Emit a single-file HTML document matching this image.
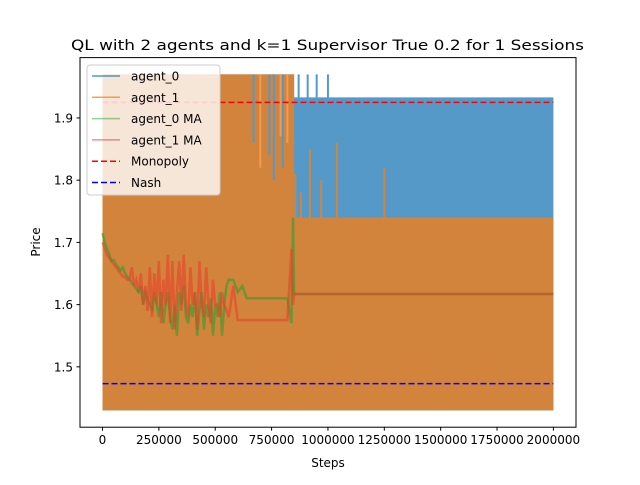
<!DOCTYPE html>
<html><head><meta charset="utf-8"><style>
body{margin:0;background:#fff}
svg{font-family:"DejaVu Sans","Liberation Sans",sans-serif}
</style></head><body>
<svg id="chart" width="640" height="480" viewBox="0 0 640 480" xmlns="http://www.w3.org/2000/svg">
<rect width="640" height="480" fill="#fff"/>
<text x="71" y="50" font-size="14.5" textLength="513" lengthAdjust="spacingAndGlyphs">QL with 2 agents and k=1 Supervisor True 0.2  for 1 Sessions</text>
<g id="plot"></g>
<rect x="80" y="57.6" width="496" height="369.6" fill="none" stroke="#000" stroke-width="1"/>
<g id="axes"></g>
<text x="328" y="467" text-anchor="middle" font-size="12">Steps</text>
<text transform="translate(40,242) rotate(-90)" text-anchor="middle" font-size="12">Price</text>
<g id="legend">
<rect x="87" y="65" width="133" height="130" rx="3" fill="#fff" fill-opacity="0.8" stroke="#ccc"/>
</g>
</svg>
<script>
// data
const xTicks=[0,250000,500000,750000,1000000,1250000,1500000,1750000,2000000];
const yTicks=[1.5,1.6,1.7,1.8,1.9];
const monopoly=1.925, nash=1.473;
const agent0Band={xs:[0,850000,850000,2000000],top:[1.97,1.97,1.933,1.933],bottom:1.43};
const agent1Band={xs:[0,850000,850000,2000000],top:[1.97,1.97,1.74,1.74],bottom:1.43};
const agent0DownSpikes=[[670000,1.86],[740000,1.84],[760000,1.80],[800000,1.82]];
const agent0UpSpikes=[[870000,1.97],[910000,1.97],[950000,1.97],[1000000,1.97]];
const agent1Spikes=[[855000,1.81],[880000,1.78],[920000,1.85],[970000,1.80],[1040000,1.86],[1250000,1.82]];
const agent1DownSpikes=[[700000,1.82],[790000,1.87],[820000,1.86]];
const maSteps=[0,10000,20000,30000,40000,50000,60000,70000,80000,90000,100000,110000,120000,130000,140000,150000,160000,170000,180000,190000,200000,210000,220000,230000,240000,250000,260000,270000,280000,290000,300000,310000,320000,330000,340000,350000,360000,370000,380000,390000,400000,410000,420000,430000,440000,450000,460000,470000,480000,490000,500000,510000,520000,530000,540000,550000,560000,580000,600000,620000,640000,700000,760000,820000,838000,845000,850000,870000,1200000,2000000];
const agent0MA=[1.715,1.70,1.69,1.68,1.67,1.672,1.665,1.66,1.655,1.66,1.65,1.645,1.64,1.635,1.63,1.625,1.62,1.63,1.60,1.62,1.61,1.60,1.59,1.62,1.60,1.58,1.62,1.57,1.60,1.62,1.58,1.56,1.60,1.55,1.62,1.60,1.63,1.58,1.57,1.60,1.58,1.62,1.55,1.59,1.62,1.56,1.60,1.58,1.61,1.55,1.60,1.58,1.62,1.55,1.60,1.63,1.64,1.64,1.62,1.63,1.61,1.61,1.61,1.61,1.57,1.74,1.617,1.617,1.617,1.617];
const agent1MA=[1.70,1.69,1.68,1.675,1.67,1.665,1.66,1.655,1.65,1.645,1.645,1.64,1.64,1.66,1.63,1.64,1.62,1.65,1.60,1.63,1.59,1.66,1.58,1.65,1.60,1.67,1.57,1.64,1.60,1.68,1.57,1.67,1.56,1.62,1.67,1.59,1.68,1.60,1.58,1.66,1.60,1.62,1.56,1.67,1.60,1.58,1.66,1.60,1.57,1.64,1.60,1.60,1.58,1.62,1.60,1.59,1.58,1.63,1.575,1.575,1.575,1.575,1.575,1.575,1.69,1.60,1.617,1.617,1.617,1.617];
const series=[["agent_0","#1f77b4",0.75,""],["agent_1","#ff7f0e",0.75,""],["agent_0 MA","#2ca02c",0.5,""],["agent_1 MA","#d62728",0.5,""],["Monopoly","#ff0000",1,"6,3"],["Nash","#0000ff",1,"6,3"]];

const NS="http://www.w3.org/2000/svg";
const X=v=>102.5+v/2000000*450.9;
const Y=v=>427.2-(v-1.403)/0.594*369.6;
function mk(p,t,a){const e=document.createElementNS(NS,t);for(const k in a)e.setAttribute(k,a[k]);p.appendChild(e);return e;}
const plot=document.getElementById('plot'),axes=document.getElementById('axes'),leg=document.getElementById('legend');
function band(b,color,name){let d=`M${X(b.xs[0])},${Y(b.bottom)}`;b.xs.forEach((x,i)=>d+=`L${X(x)},${Y(b.top[i])}`);d+=`L${X(b.xs[b.xs.length-1])},${Y(b.bottom)}Z`;
const p=mk(plot,'path',{d,fill:color});

}
band(agent0Band,'#5599c8','agent-0-band');
band(agent1Band,'#d3843c','agent-1-band');
function spikes(arr,from,color,name){arr.forEach(s=>{const l=mk(plot,'line',{x1:X(s[0]),x2:X(s[0]),y1:Y(from),y2:Y(s[1]),stroke:color,'stroke-width':2});

});}
spikes(agent0DownSpikes,1.97,'#5599c8','agent-0-spike');
spikes(agent1DownSpikes,1.97,'#f39a4c','agent-1-spike');
spikes(agent0UpSpikes,1.933,'#5599c8','agent-0-spike');
spikes(agent1Spikes,1.74,'#d3843c','agent-1-spike');
function line(vals,color,name){const pts=maSteps.map((s,i)=>X(s)+','+Y(vals[i])).join(' ');
const l=mk(plot,'polyline',{points:pts,fill:'none',stroke:color,'stroke-width':2.5,'stroke-opacity':0.6});

}
line(agent0MA,'#2ca02c','agent-0-ma-line');
line(agent1MA,'#e8402a','agent-1-ma-line');
const m=mk(plot,'line',{x1:X(0),x2:X(2000000),y1:Y(monopoly),y2:Y(monopoly),stroke:'#f00','stroke-width':1.5,'stroke-dasharray':'6,3'});


const n=mk(plot,'line',{x1:X(0),x2:X(2000000),y1:Y(nash),y2:Y(nash),stroke:'#00f','stroke-width':1.5,'stroke-dasharray':'6,3'});


xTicks.forEach(t=>{mk(axes,'line',{x1:X(t),x2:X(t),y1:427.2,y2:430.7,stroke:'#000'});
const tx=mk(axes,'text',{x:X(t),y:444,'text-anchor':'middle','font-size':12});tx.textContent=t;

});
yTicks.forEach(t=>{mk(axes,'line',{x1:76.5,x2:80,y1:Y(t),y2:Y(t),stroke:'#000'});
const tx=mk(axes,'text',{x:73,y:Y(t)+4.5,'text-anchor':'end','font-size':12});tx.textContent=t.toFixed(1);

});
series.forEach((s,i)=>{const y=76+i*21.3;
mk(leg,'line',{x1:92,x2:120,y1:y,y2:y,stroke:s[1],'stroke-width':1.5,'stroke-opacity':s[2],'stroke-dasharray':s[3]});
const tx=mk(leg,'text',{x:131,y:y+4.5,'font-size':12});tx.textContent=s[0];

});
</script>
</body></html>
